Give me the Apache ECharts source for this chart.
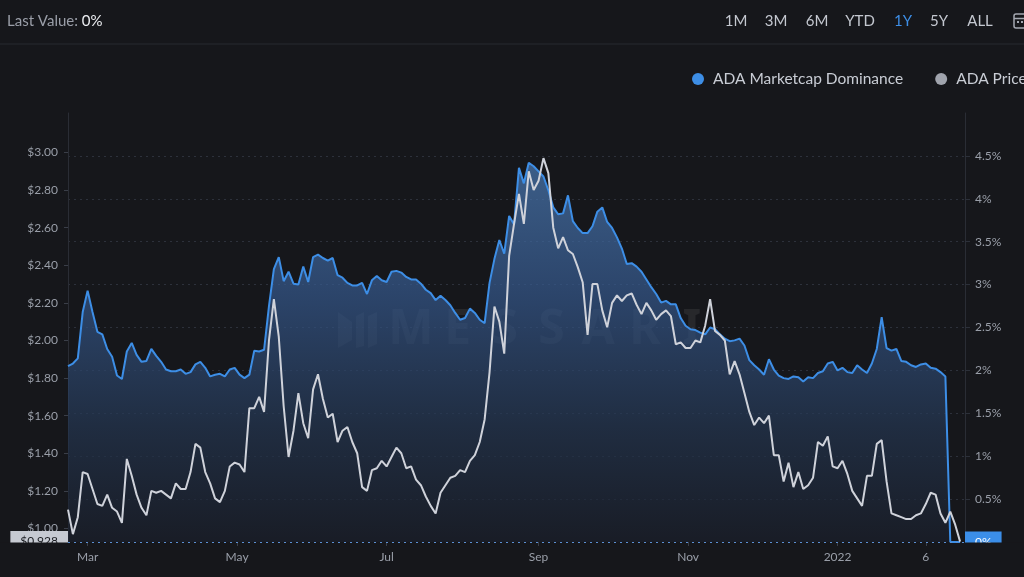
<!DOCTYPE html>
<html>
<head>
<meta charset="utf-8">
<script src="https://cdn.jsdelivr.net/npm/echarts@6/dist/echarts.min.js"></script>
<style>
html,body{margin:0;padding:0;background:#16171b;}
#chart{width:1024px;height:577px;}
</style>
</head>
<body>
<div id="chart"></div>
<script>
// ---- data ----
const startDate = '2021-02-21';
const stepDays = 2;

// ADA Marketcap Dominance (%), one value every 2 days
const dominance = [
 2.05,2.08,2.14,2.68,2.93,2.68,2.45,2.42,2.25,2.16,
 1.94,1.90,2.22,2.32,2.18,2.10,2.11,2.25,2.17,2.10,
 2.01,1.99,1.99,2.01,1.96,1.98,2.07,2.10,2.03,1.93,
 1.95,1.96,1.93,2.01,2.03,1.95,1.91,1.95,2.23,2.22,
 2.24,2.75,3.18,3.32,3.04,3.15,3.01,3.00,3.21,3.03,
 3.32,3.35,3.31,3.28,3.31,3.11,3.08,3.02,2.99,2.99,
 3.02,2.89,3.05,3.10,3.05,3.03,3.15,3.16,3.14,3.09,
 3.06,3.06,3.01,2.94,2.90,2.82,2.87,2.82,2.76,2.67,
 2.59,2.61,2.72,2.67,2.59,2.55,3.02,3.30,3.52,3.36,
 3.80,3.70,4.36,4.18,4.42,4.38,4.32,4.26,4.10,3.90,
 3.82,3.83,4.04,3.74,3.66,3.60,3.60,3.68,3.85,3.90,
 3.73,3.66,3.55,3.42,3.24,3.25,3.21,3.15,3.06,2.97,
 2.89,2.79,2.81,2.77,2.77,2.61,2.52,2.48,2.47,2.44,
 2.42,2.50,2.48,2.42,2.37,2.34,2.35,2.37,2.29,2.12,
 2.06,2.01,1.95,2.13,2.01,1.94,1.91,1.90,1.93,1.92,
 1.87,1.92,1.91,1.97,1.99,2.08,2.10,2.00,2.03,1.98,
 1.97,2.06,2.01,1.97,2.08,2.25,2.62,2.26,2.23,2.25,
 2.11,2.10,2.06,2.04,2.07,2.08,2.03,2.02,1.98,1.93,
 0,0,0
];

// ADA Price (USD), same dates
const price = [
 1.10,0.97,1.06,1.30,1.29,1.21,1.13,1.12,1.18,1.11,
 1.09,1.03,1.37,1.28,1.18,1.11,1.07,1.20,1.19,1.20,
 1.18,1.16,1.24,1.21,1.21,1.30,1.45,1.43,1.30,1.24,
 1.16,1.14,1.20,1.33,1.35,1.34,1.30,1.64,1.64,1.70,
 1.62,2.00,2.22,2.02,1.65,1.38,1.52,1.72,1.56,1.48,
 1.74,1.82,1.69,1.59,1.61,1.46,1.52,1.54,1.46,1.40,
 1.22,1.20,1.31,1.32,1.36,1.33,1.38,1.43,1.40,1.32,
 1.33,1.26,1.23,1.17,1.12,1.08,1.19,1.23,1.27,1.28,
 1.31,1.30,1.36,1.39,1.46,1.58,1.83,2.18,2.10,1.93,
 2.45,2.62,2.78,2.62,2.90,2.80,2.85,2.97,2.89,2.60,
 2.49,2.55,2.48,2.46,2.39,2.31,2.03,2.30,2.30,2.16,
 2.07,2.20,2.24,2.21,2.24,2.25,2.19,2.14,2.20,2.16,
 2.11,2.14,2.16,2.13,1.98,1.99,1.96,1.96,2.00,1.99,
 2.08,2.22,2.05,2.03,2.00,1.82,1.89,1.82,1.72,1.62,
 1.55,1.59,1.56,1.60,1.39,1.39,1.25,1.35,1.22,1.30,
 1.21,1.23,1.27,1.46,1.44,1.49,1.33,1.32,1.36,1.29,
 1.20,1.16,1.12,1.28,1.28,1.45,1.47,1.25,1.08,1.07,
 1.06,1.05,1.05,1.07,1.08,1.13,1.19,1.18,1.08,1.03,
 1.09,1.02,0.93
];

const xTickDates  = ['2021-03-01','2021-05-01','2021-07-01','2021-09-01','2021-11-01','2022-01-01','2022-02-06'];
const xTickLabels = ['Mar','May','Jul','Sep','Nov','2022','6'];
const priceTicks  = [1.00,1.20,1.40,1.60,1.80,2.00,2.20,2.40,2.60,2.80,3.00];
const lastPrice = 0.928;
const lastDominance = 0;
const rangeButtons = ['1M','3M','6M','YTD','1Y','5Y','ALL'];
const activeRange = '1Y';
const watermark = 'MESSARI';

// ---- build ----
const DAY = 86400000;
const ts = s => new Date(s + 'T00:00:00Z').getTime();
const t0 = ts(startDate);
const dates = dominance.map((_, i) => t0 + i * stepDays * DAY);
const domData = dominance.map((v, i) => [dates[i], v]);
const priceData = price.map((v, i) => [dates[i], v]);
const xTickTs = xTickDates.map(ts);

const BG = '#16171b';
const AXIS_TXT = '#9a9fa9';
const FONT = 'Lato';

const graphics = [];
graphics.push({type:'line', shape:{x1:0,y1:44,x2:1024,y2:44}, style:{stroke:'#272a31', lineWidth:1}, silent:true});
const btnX = [736,776,817,860,903,939,980];
rangeButtons.forEach((b, i) => {
  graphics.push({type:'text', x:btnX[i], y:21, silent:true,
    style:{text:b, fill: b === activeRange ? '#3d8ee6' : '#c4c8d0', font:'15px ' + FONT, align:'center', verticalAlign:'middle'}});
});
graphics.push({type:'rect', shape:{x:1014,y:14,width:13,height:14,r:2}, style:{fill:'none', stroke:'#a4a8b1', lineWidth:1.5}, silent:true});
graphics.push({type:'line', shape:{x1:1014,y1:18.5,x2:1027,y2:18.5}, style:{stroke:'#a4a8b1', lineWidth:1.5}, silent:true});
graphics.push({type:'rect', shape:{x:1017,y:21,width:2,height:2}, style:{fill:'#a4a8b1'}, silent:true});
graphics.push({type:'rect', shape:{x:1021,y:21,width:2,height:2}, style:{fill:'#a4a8b1'}, silent:true});
const wm = 'rgba(255,255,255,0.075)';
graphics.push({type:'polygon', shape:{points:[[338,312],[352,322],[352,340],[338,348]]}, style:{fill:wm}, silent:true});
graphics.push({type:'polygon', shape:{points:[[356,316],[364,312],[364,346],[356,348]]}, style:{fill:wm}, silent:true});
graphics.push({type:'polygon', shape:{points:[[368,316],[377,312],[377,344],[368,348]]}, style:{fill:wm}, silent:true});
watermark.split('').forEach((ch, i) => {
  graphics.push({type:'text', x:411 + i * 46.8, y:330, silent:true,
    style:{text:ch, fill:wm, font:'bold 48px "Noto Sans"', align:'center', verticalAlign:'middle'}});
});
graphics.push({type:'rect', z:100, shape:{x:0,y:542.5,width:68,height:35}, style:{fill:BG}, silent:true});
graphics.push({type:'rect', z:100, shape:{x:965,y:542.5,width:59,height:35}, style:{fill:BG}, silent:true});

const chart = echarts.init(document.getElementById('chart'));
chart.setOption({
  backgroundColor: BG,
  animation: false,
  textStyle: {fontFamily: FONT},
  title: {
    left: 2, top: 9,
    text: '{a|Last Value: }{b|' + lastDominance + '%}',
    textStyle: {fontWeight:'normal', rich: {
      a: {color:'#9a9ea8', fontSize:15, fontFamily:FONT, fontWeight:'normal'},
      b: {color:'#eceef2', fontSize:15, fontFamily:FONT, fontWeight:'normal'}
    }}
  },
  legend: {
    left: 687, top: 66, width: 500,
    icon: 'circle', itemWidth: 12, itemHeight: 12, itemGap: 32,
    textStyle: {color:'#c9cdd5', fontSize:15.5, fontFamily:FONT, padding:[0,0,0,4]},
    data: ['ADA Marketcap Dominance','ADA Price']
  },
  grid: {left:68, right:59, top:113, bottom:35},
  xAxis: {
    type: 'value',
    min: t0, max: t0 + 366 * DAY,
    axisLine: {show:false},
    axisTick: {show:true, customValues: xTickTs, length:4, lineStyle:{color:'#3a3e48'}},
    axisLabel: {
      customValues: xTickTs, color: AXIS_TXT, fontSize: 12, margin: 9,
      formatter: v => { const k = xTickTs.indexOf(+v); return k >= 0 ? xTickLabels[k] : ''; }
    },
    splitLine: {show:false}
  },
  yAxis: [
    {
      type: 'value', position: 'left',
      min: lastPrice, max: 3.21,
      axisLine: {show:true, lineStyle:{color:'#2a2d35'}},
      axisTick: {show:true, customValues: priceTicks, length:4, lineStyle:{color:'#3a3e48'}},
      axisLabel: {customValues: priceTicks, color: AXIS_TXT, fontSize:12, margin:10,
        formatter: v => '$' + Number(v).toFixed(2)},
      splitLine: {show:false}
    },
    {
      type: 'value', position: 'right',
      min: 0, max: 5, interval: 0.5,
      axisLine: {show:true, lineStyle:{color:'#2a2d35'}},
      axisTick: {show:true, length:5, lineStyle:{color:'#2c3039'}},
      axisLabel: {color: AXIS_TXT, fontSize:12, margin:10, showMinLabel:false, showMaxLabel:false,
        formatter: v => v + '%'},
      splitLine: {show:true, showMinLine:false, showMaxLine:false,
        lineStyle:{color:'#2d313b', type:[2,4], width:1}}
    }
  ],
  graphic: graphics,
  series: [
    {
      name: 'ADA Marketcap Dominance',
      type: 'line', yAxisIndex: 1,
      data: domData,
      showSymbol: false, symbol: 'none',
      lineStyle: {color:'#3d8ee6', width:2},
      itemStyle: {color:'#3d8ee6'},
      areaStyle: {
        color: new echarts.graphic.LinearGradient(0, 0, 0, 1, [
          {offset:0, color:'#4c7cb7'},
          {offset:0.35, color:'#35588c'},
          {offset:0.7, color:'#243651'},
          {offset:1, color:'#1a1f2b'}
        ])
      },
      markLine: {
        silent: true, symbol: 'none',
        lineStyle: {color:'#5b8fd2', type:[2,4], width:1},
        label: {position:'end', distance:0, formatter: lastDominance + '%',
          backgroundColor:'#3b8ee8', color:'#ffffff', fontSize:12, padding:[4,10], lineHeight:13},
        data: [{yAxis: lastDominance}]
      },
      z: 2
    },
    {
      name: 'ADA Price',
      type: 'line', yAxisIndex: 0,
      data: priceData,
      showSymbol: false, symbol: 'none',
      lineStyle: {color:'#cfd2da', width:2},
      itemStyle: {color:'#a0a4ad'},
      markLine: {
        silent: true, symbol: 'none',
        lineStyle: {color:'rgba(0,0,0,0)', width:1},
        label: {show:true, position:'start', distance:0, formatter: '$' + lastPrice,
          backgroundColor:'#c6cad2', color:'#1b1d22', fontSize:12, padding:[4,10], lineHeight:13},
        data: [{yAxis: lastPrice}]
      },
      z: 3
    }
  ]
});
</script>
</body>
</html>
